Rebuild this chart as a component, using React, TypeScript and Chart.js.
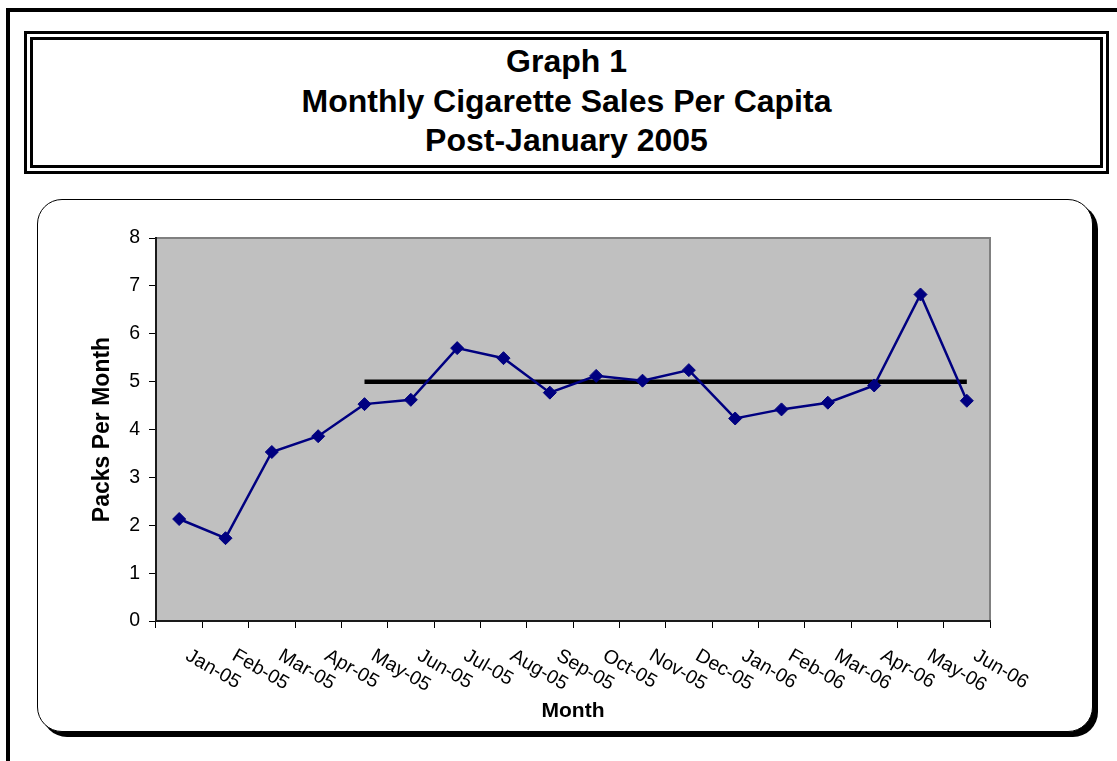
import React, { useEffect, useRef } from "react";
import { Chart, registerables } from "chart.js";

Chart.register(...registerables);

const FONT = '"Liberation Sans", Arial, Helvetica, sans-serif';

const months = [
  "Jan-05", "Feb-05", "Mar-05", "Apr-05", "May-05", "Jun-05",
  "Jul-05", "Aug-05", "Sep-05", "Oct-05", "Nov-05", "Dec-05",
  "Jan-06", "Feb-06", "Mar-06", "Apr-06", "May-06", "Jun-06",
];

const packsPerMonth = [
  2.13, 1.73, 3.53, 3.86, 4.53, 4.62,
  5.70, 5.49, 4.77, 5.12, 5.02, 5.24,
  4.23, 4.42, 4.56, 4.92, 6.82, 4.60,
];

const targetLevel = [
  null, null, null, null, 5, 5,
  5, 5, 5, 5, 5, 5,
  5, 5, 5, 5, 5, 5,
];

const yMin = 0;
const yMax = 8;
const yStep = 1;

const titleLines = ["Graph 1", "Monthly Cigarette Sales Per Capita", "Post-January 2005"];
const yAxisTitle = "Packs Per Month";
const xAxisTitle = "Month";

const plotBackground = {
  id: "plotBackground",
  beforeDraw(chart: any) {
    const { ctx, chartArea: a } = chart;
    ctx.save();
    ctx.fillStyle = "#C0C0C0";
    ctx.fillRect(a.left, a.top, a.right - a.left, a.bottom - a.top);
    ctx.strokeStyle = "#808080";
    ctx.lineWidth = 2;
    ctx.strokeRect(a.left, a.top, a.right - a.left, a.bottom - a.top);
    ctx.restore();
  },
};

const slantedLabels = {
  id: "slantedLabels",
  afterDraw(chart: any) {
    const { ctx, chartArea } = chart;
    const xs = chart.scales.x;
    ctx.save();
    ctx.font = `19.5px ${FONT}`;
    ctx.fillStyle = "#000";
    ctx.textAlign = "left";
    ctx.textBaseline = "top";
    months.forEach((m, i) => {
      const x = xs.getPixelForValue(i);
      ctx.save();
      ctx.translate(x + 13, chartArea.bottom + 25);
      ctx.rotate(Math.PI / 6);
      ctx.fillText(m, 0, 0);
      ctx.restore();
    });
    ctx.restore();
  },
};

function SalesChart() {
  const ref = useRef<HTMLCanvasElement | null>(null);
  useEffect(() => {
    if (!ref.current) return;
    Chart.defaults.font.family = FONT;
    const chart = new Chart(ref.current, {
      type: "line",
      data: {
        labels: months,
        datasets: [
          {
            label: "Packs Per Month",
            data: packsPerMonth,
            borderColor: "#000080",
            backgroundColor: "#000080",
            borderWidth: 2.5,
            pointStyle: "rectRot",
            pointRadius: 6.5,
            pointBackgroundColor: "#000080",
            pointBorderColor: "#000080",
            pointBorderWidth: 1,
            tension: 0,
          },
          {
            label: "Target",
            data: targetLevel as any,
            borderColor: "#000",
            borderWidth: 4.5,
            pointRadius: 0,
            tension: 0,
            spanGaps: false,
          },
        ],
      },
      options: {
        responsive: false,
        animation: false,
        devicePixelRatio: 1,
        layout: { padding: { left: 0, top: 38, right: 98, bottom: 0 } },
        plugins: {
          legend: { display: false },
          tooltip: { enabled: false },
          title: { display: false },
        },
        scales: {
          x: {
            type: "category",
            offset: true,
            afterFit: (s: any) => {
              s.height = 107;
            },
            grid: {
              offset: true,
              drawOnChartArea: false,
              drawTicks: true,
              tickLength: 7,
              color: "#000",
              lineWidth: 1,
            },
            border: { display: true, color: "#1a1a1a", width: 2 },
            ticks: { display: false },
            title: {
              display: true,
              text: xAxisTitle,
              color: "#000",
              font: { size: 21, weight: "bold", family: FONT },
              padding: { top: 0, bottom: 4 },
            },
          },
          y: {
            min: yMin,
            max: yMax,
            afterFit: (s: any) => {
              s.width = 118;
            },
            ticks: {
              stepSize: yStep,
              color: "#000",
              font: { size: 19.5, family: FONT },
              padding: 9,
            },
            grid: {
              drawOnChartArea: false,
              drawTicks: true,
              tickLength: 7,
              color: "#000",
              lineWidth: 1,
            },
            border: { display: true, color: "#1a1a1a", width: 2 },
            title: {
              display: true,
              text: yAxisTitle,
              color: "#000",
              font: { size: 23, weight: "bold", family: FONT },
              padding: { top: 51, bottom: 0 },
            },
          },
        },
      },
      plugins: [plotBackground, slantedLabels],
    });
    return () => chart.destroy();
  }, []);
  return (
    <canvas
      ref={ref}
      width={1050}
      height={528}
      style={{ position: "absolute", left: 38, top: 200, width: 1050, height: 528, display: "block" }}
    />
  );
}

export default function App() {
  return (
    <div
      style={{
        position: "absolute",
        left: 0,
        top: 0,
        width: 1117,
        height: 761,
        overflow: "hidden",
        background: "#fff",
        fontFamily: FONT,
      }}
    >
      <div
        style={{
          position: "absolute",
          left: 6,
          top: 8,
          width: 1200,
          height: 800,
          borderTop: "4px solid #000",
          borderLeft: "4px solid #000",
        }}
      />
      <div
        style={{
          position: "absolute",
          left: 24,
          top: 31,
          width: 1085,
          height: 143,
          boxSizing: "border-box",
          border: "9px double #000",
        }}
      />
      <div
        style={{
          position: "absolute",
          left: 24,
          top: 42,
          width: 1085,
          textAlign: "center",
          fontWeight: "bold",
          fontSize: 32,
          lineHeight: "39.5px",
          color: "#000",
        }}
      >
        {titleLines.map((t) => (
          <div key={t}>{t}</div>
        ))}
      </div>
      <div
        style={{
          position: "absolute",
          left: 37,
          top: 199,
          width: 1056,
          height: 533,
          boxSizing: "border-box",
          border: "1px solid #000",
          borderRadius: 25,
          boxShadow: "5px 5px 0 0 #000",
          background: "#fff",
        }}
      />
      <SalesChart />
    </div>
  );
}
